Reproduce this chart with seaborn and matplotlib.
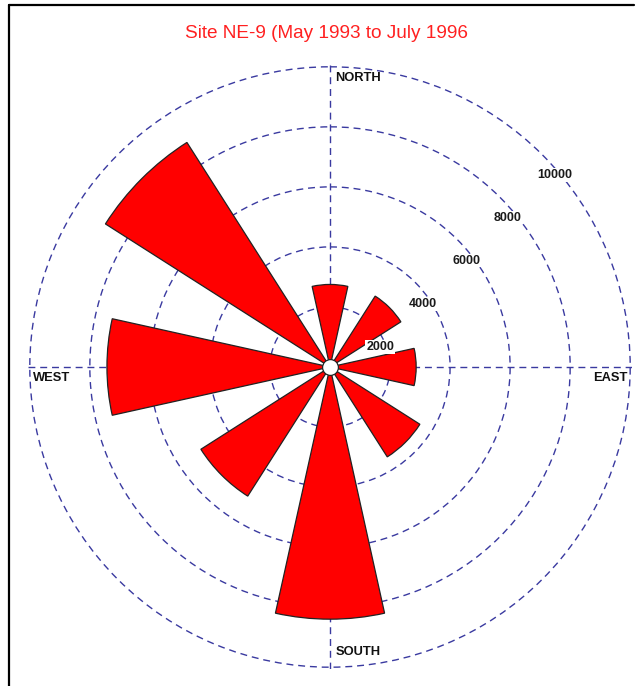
import numpy as np
import pandas as pd
import seaborn as sns
import matplotlib.pyplot as plt
from matplotlib.lines import Line2D

# wind rose data
directions = ['N', 'NE', 'E', 'SE', 'S', 'SW', 'W', 'NW']
bearings = [0, 45, 90, 135, 180, 225, 270, 315]
counts = [2750, 2800, 2870, 3550, 8400, 5100, 7430, 8870]

ring_values = [2000, 4000, 6000, 8000, 10000]
ring_labels = ['2000', '4000', '6000', '8000', '10000']
# where the ring labels sit (bearing in degrees, radius)
ring_label_pos = [(68, 1800), (56, 3745), (52, 5750), (50, 7740), (49.5, 9860)]

compass = ['NORTH', 'EAST', 'SOUTH', 'WEST']

df = pd.DataFrame({'dir': directions,
                   'theta': np.radians(bearings),
                   'count': counts})

sns.set_theme(style='white')
plt.rcParams['font.family'] = ['Liberation Sans', 'DejaVu Sans']

fig = plt.figure(figsize=(6.39, 6.86), dpi=100)
ax = fig.add_axes([28 / 639, 1 - 669 / 686, 604 / 639, 604 / 686], projection='polar')
ax.set_theta_zero_location('N')
ax.set_theta_direction(-1)

bar_width = np.radians(25)
ax.bar(df['theta'], df['count'], width=bar_width, color='#ff0000',
       edgecolor='#222222', linewidth=0.9, zorder=3)

# hub at the centre
ax.scatter([0], [0], s=130, facecolor='white', edgecolor='#222222',
           linewidth=0.9, zorder=5)

grid_color = '#3a3aa0'
ax.set_ylim(0, 10060)
ax.set_yticks(ring_values)
ax.set_yticklabels([])
ax.set_xticks(np.radians([0, 90, 180, 270]))
ax.set_xticklabels([])
ax.grid(True, color=grid_color, linestyle=(0, (5, 3.5)), linewidth=1.0)
ax.spines['polar'].set_visible(False)
ax.set_facecolor('white')

for (b, r), lab in zip(ring_label_pos, ring_labels):
    ax.text(np.radians(b), r, lab, ha='center', va='center', fontsize=9,
            fontweight='bold', color='#1a1a1a', zorder=6,
            bbox=dict(facecolor='white', edgecolor='none', pad=0.5))

tk = dict(fontsize=9.3, fontweight='bold', color='#111111', transform=ax.transAxes)
ax.text(0.509, 0.988, compass[0], ha='left', va='top', **tk)
ax.text(0.992, 0.492, compass[1], ha='right', va='top', **tk)
ax.text(0.509, 0.018, compass[2], ha='left', va='bottom', **tk)
ax.text(0.008, 0.492, compass[3], ha='left', va='top', **tk)

fig.text(327 / 639, 1 - 33 / 686, 'Site NE-9 (May 1993 to July 1996',
         color='#ff2020', fontsize=13.7, ha='center', va='center')

# page frame (top and left edges)
fig.add_artist(Line2D([9 / 639, 634 / 639], [1 - 5 / 686, 1 - 5 / 686],
                      color='black', linewidth=1.6))
fig.add_artist(Line2D([9 / 639, 9 / 639], [0, 1 - 5 / 686],
                      color='black', linewidth=1.6))

fig.savefig('out.png', dpi=100, facecolor='white')
